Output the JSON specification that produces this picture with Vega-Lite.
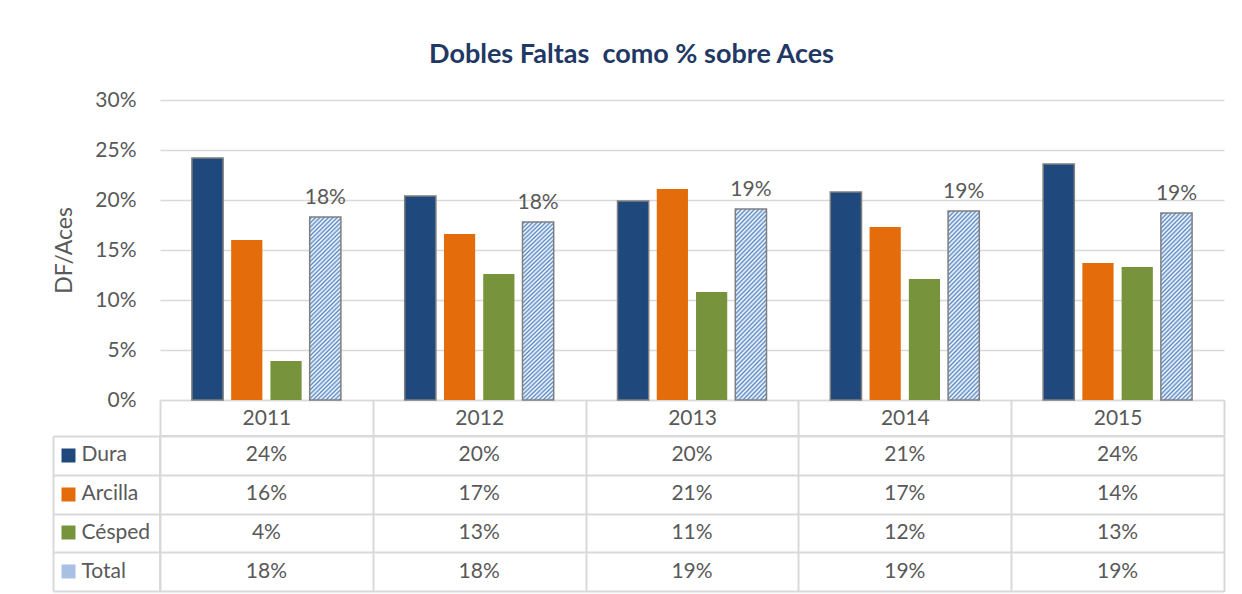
{
  "$schema": "https://vega.github.io/schema/vega-lite/v6.json",
  "padding": {"left": 51, "top": 41, "right": 0, "bottom": 0},
  "background": "white",
  "title": {"text": "Dobles Faltas \u00a0como % sobre Aces", "font": "Lato", "fontSize": 27, "fontWeight": "bold", "color": "#1F3864", "anchor": "middle", "frame": "bounds", "dx": -7, "offset": 20},
  "config": {"view": {"stroke": null}, "font": "Lato"},
  "datasets": {
    "df": [
      {"year": "2011", "series": "Dura", "value": 0.242},
      {"year": "2011", "series": "Arcilla", "value": 0.160},
      {"year": "2011", "series": "Césped", "value": 0.039},
      {"year": "2011", "series": "Total", "value": 0.183},
      {"year": "2012", "series": "Dura", "value": 0.204},
      {"year": "2012", "series": "Arcilla", "value": 0.166},
      {"year": "2012", "series": "Césped", "value": 0.126},
      {"year": "2012", "series": "Total", "value": 0.178},
      {"year": "2013", "series": "Dura", "value": 0.199},
      {"year": "2013", "series": "Arcilla", "value": 0.211},
      {"year": "2013", "series": "Césped", "value": 0.108},
      {"year": "2013", "series": "Total", "value": 0.191},
      {"year": "2014", "series": "Dura", "value": 0.208},
      {"year": "2014", "series": "Arcilla", "value": 0.173},
      {"year": "2014", "series": "Césped", "value": 0.121},
      {"year": "2014", "series": "Total", "value": 0.189},
      {"year": "2015", "series": "Dura", "value": 0.236},
      {"year": "2015", "series": "Arcilla", "value": 0.137},
      {"year": "2015", "series": "Césped", "value": 0.133},
      {"year": "2015", "series": "Total", "value": 0.187}
    ]
  },
  "spacing": -2,
  "vconcat": [
    {
      "width": 1064,
      "height": 300,
      "data": {"name": "df"},
      "encoding": {
        "x": {"field": "year", "type": "nominal", "scale": {"paddingInner": 0, "paddingOuter": 0},
          "axis": {"orient": "bottom", "domain": true, "domainColor": "#D9D9D9", "domainWidth": 1.5, "ticks": true, "tickBand": "extent", "tickSize": 35, "tickColor": "#D9D9D9", "tickWidth": 2, "labelPadding": -17, "labelBaseline": "middle", "labelFontSize": 21, "labelColor": "#595959", "labelFont": "Lato", "labelAngle": 0, "title": null, "grid": false}},
        "xOffset": {"field": "series", "type": "nominal", "scale": {"domain": ["Dura", "Arcilla", "Césped", "Total"], "paddingInner": 0.205, "paddingOuter": 0.8125}},
        "y": {"field": "value", "type": "quantitative", "scale": {"domain": [0, 0.3], "nice": false},
          "axis": {"values": [0, 0.05, 0.1, 0.15, 0.2, 0.25, 0.3], "format": ".0%", "labelFontSize": 21, "labelColor": "#595959", "labelFont": "Lato", "labelPadding": 24, "ticks": false, "domain": false, "grid": true, "gridColor": "#D9D9D9", "gridWidth": 1.5, "title": "DF/Aces", "titleFont": "Lato", "titleFontSize": 23, "titleFontWeight": "normal", "titleColor": "#595959", "titlePadding": 19, "minExtent": 65, "maxExtent": 65}}
      },
      "layer": [
        {
          "mark": {"type": "bar", "strokeWidth": 1.5},
          "encoding": {
            "fill": {
              "condition": {"test": "datum.series === 'Total'", "value": {"gradient": "linear", "x1": 0, "y1": 0, "x2": 0.192, "y2": 1.137, "stops": [
                {"offset": 0, "color": "#ffffff"}, {"offset": 0.01, "color": "#5A8AC6"}, {"offset": 0.02, "color": "#ffffff"}, {"offset": 0.03, "color": "#5A8AC6"}, {"offset": 0.04, "color": "#ffffff"}, {"offset": 0.05, "color": "#5A8AC6"}, {"offset": 0.06, "color": "#ffffff"}, {"offset": 0.07, "color": "#5A8AC6"}, {"offset": 0.08, "color": "#ffffff"}, {"offset": 0.09, "color": "#5A8AC6"},
                {"offset": 0.10, "color": "#ffffff"}, {"offset": 0.11, "color": "#5A8AC6"}, {"offset": 0.12, "color": "#ffffff"}, {"offset": 0.13, "color": "#5A8AC6"}, {"offset": 0.14, "color": "#ffffff"}, {"offset": 0.15, "color": "#5A8AC6"}, {"offset": 0.16, "color": "#ffffff"}, {"offset": 0.17, "color": "#5A8AC6"}, {"offset": 0.18, "color": "#ffffff"}, {"offset": 0.19, "color": "#5A8AC6"},
                {"offset": 0.20, "color": "#ffffff"}, {"offset": 0.21, "color": "#5A8AC6"}, {"offset": 0.22, "color": "#ffffff"}, {"offset": 0.23, "color": "#5A8AC6"}, {"offset": 0.24, "color": "#ffffff"}, {"offset": 0.25, "color": "#5A8AC6"}, {"offset": 0.26, "color": "#ffffff"}, {"offset": 0.27, "color": "#5A8AC6"}, {"offset": 0.28, "color": "#ffffff"}, {"offset": 0.29, "color": "#5A8AC6"},
                {"offset": 0.30, "color": "#ffffff"}, {"offset": 0.31, "color": "#5A8AC6"}, {"offset": 0.32, "color": "#ffffff"}, {"offset": 0.33, "color": "#5A8AC6"}, {"offset": 0.34, "color": "#ffffff"}, {"offset": 0.35, "color": "#5A8AC6"}, {"offset": 0.36, "color": "#ffffff"}, {"offset": 0.37, "color": "#5A8AC6"}, {"offset": 0.38, "color": "#ffffff"}, {"offset": 0.39, "color": "#5A8AC6"},
                {"offset": 0.40, "color": "#ffffff"}, {"offset": 0.41, "color": "#5A8AC6"}, {"offset": 0.42, "color": "#ffffff"}, {"offset": 0.43, "color": "#5A8AC6"}, {"offset": 0.44, "color": "#ffffff"}, {"offset": 0.45, "color": "#5A8AC6"}, {"offset": 0.46, "color": "#ffffff"}, {"offset": 0.47, "color": "#5A8AC6"}, {"offset": 0.48, "color": "#ffffff"}, {"offset": 0.49, "color": "#5A8AC6"},
                {"offset": 0.50, "color": "#ffffff"}, {"offset": 0.51, "color": "#5A8AC6"}, {"offset": 0.52, "color": "#ffffff"}, {"offset": 0.53, "color": "#5A8AC6"}, {"offset": 0.54, "color": "#ffffff"}, {"offset": 0.55, "color": "#5A8AC6"}, {"offset": 0.56, "color": "#ffffff"}, {"offset": 0.57, "color": "#5A8AC6"}, {"offset": 0.58, "color": "#ffffff"}, {"offset": 0.59, "color": "#5A8AC6"},
                {"offset": 0.60, "color": "#ffffff"}, {"offset": 0.61, "color": "#5A8AC6"}, {"offset": 0.62, "color": "#ffffff"}, {"offset": 0.63, "color": "#5A8AC6"}, {"offset": 0.64, "color": "#ffffff"}, {"offset": 0.65, "color": "#5A8AC6"}, {"offset": 0.66, "color": "#ffffff"}, {"offset": 0.67, "color": "#5A8AC6"}, {"offset": 0.68, "color": "#ffffff"}, {"offset": 0.69, "color": "#5A8AC6"},
                {"offset": 0.70, "color": "#ffffff"}, {"offset": 0.71, "color": "#5A8AC6"}, {"offset": 0.72, "color": "#ffffff"}, {"offset": 0.73, "color": "#5A8AC6"}, {"offset": 0.74, "color": "#ffffff"}, {"offset": 0.75, "color": "#5A8AC6"}, {"offset": 0.76, "color": "#ffffff"}, {"offset": 0.77, "color": "#5A8AC6"}, {"offset": 0.78, "color": "#ffffff"}, {"offset": 0.79, "color": "#5A8AC6"},
                {"offset": 0.80, "color": "#ffffff"}, {"offset": 0.81, "color": "#5A8AC6"}, {"offset": 0.82, "color": "#ffffff"}, {"offset": 0.83, "color": "#5A8AC6"}, {"offset": 0.84, "color": "#ffffff"}, {"offset": 0.85, "color": "#5A8AC6"}, {"offset": 0.86, "color": "#ffffff"}, {"offset": 0.87, "color": "#5A8AC6"}, {"offset": 0.88, "color": "#ffffff"}, {"offset": 0.89, "color": "#5A8AC6"},
                {"offset": 0.90, "color": "#ffffff"}, {"offset": 0.91, "color": "#5A8AC6"}, {"offset": 0.92, "color": "#ffffff"}, {"offset": 0.93, "color": "#5A8AC6"}, {"offset": 0.94, "color": "#ffffff"}, {"offset": 0.95, "color": "#5A8AC6"}, {"offset": 0.96, "color": "#ffffff"}, {"offset": 0.97, "color": "#5A8AC6"}, {"offset": 0.98, "color": "#ffffff"}, {"offset": 0.99, "color": "#5A8AC6"},
                {"offset": 1, "color": "#ffffff"}
              ]}},
              "field": "series", "type": "nominal",
              "scale": {"domain": ["Dura", "Arcilla", "Césped", "Total"], "range": ["#1F497D", "#E46C0A", "#77933C", "#A8C0E4"]},
              "legend": null
            },
            "stroke": {"condition": {"test": "datum.series === 'Dura' || datum.series === 'Total'", "value": "#7F7F7F"}, "value": "transparent"}
          }
        },
        {
          "transform": [{"filter": "datum.series === 'Total'"}],
          "mark": {"type": "text", "baseline": "alphabetic", "dy": -13, "fontSize": 21, "color": "#595959", "font": "Lato"},
          "encoding": {
            "text": {"field": "value", "type": "quantitative", "format": ".0%"}
          }
        }
      ]
    },
    {
      "width": 1064,
      "height": 155,
      "view": {"stroke": "#D9D9D9", "strokeWidth": 2},
      "data": {"name": "df"},
      "encoding": {
        "x": {"field": "year", "type": "nominal", "scale": {"paddingInner": 0, "paddingOuter": 0},
          "axis": {"orient": "top", "grid": true, "tickBand": "extent", "labels": false, "ticks": false, "domain": false, "title": null, "gridColor": "#D9D9D9", "gridWidth": 2, "zindex": 1}}
      },
      "layer": [
        {
          "mark": {"type": "rect", "fill": "white"},
          "encoding": {
            "y": {"field": "series", "type": "nominal", "scale": {"domain": ["Dura", "Arcilla", "Césped", "Total"], "paddingInner": 0, "paddingOuter": 0},
              "axis": {"orient": "left", "offset": 107, "domain": true, "domainColor": "#D9D9D9", "domainWidth": 2, "ticks": true, "tickBand": "extent", "tickSize": -1171, "tickColor": "#D9D9D9", "tickWidth": 2, "grid": false, "labels": false, "title": null, "zindex": 1}}
          }
        },
        {
          "mark": {"type": "text", "fontSize": 21, "color": "#595959", "font": "Lato"},
          "encoding": {
            "y": {"field": "series", "type": "nominal", "scale": {"domain": ["Dura", "Arcilla", "Césped", "Total"], "paddingInner": 0, "paddingOuter": 0},
              "axis": {"orient": "left", "offset": 85, "domain": false, "grid": false, "ticks": true, "tickSize": 14, "tickWidth": 14,
                "tickColor": {"condition": [{"test": "datum.value === 'Dura'", "value": "#1F497D"}, {"test": "datum.value === 'Arcilla'", "value": "#E46C0A"}, {"test": "datum.value === 'Césped'", "value": "#77933C"}], "value": "#A8C0E4"},
                "labelAlign": "left", "labelPadding": -20, "labelBaseline": "middle", "labelFontSize": 21, "labelColor": "#595959", "labelFont": "Lato", "title": null, "zindex": 2}},
            "text": {"field": "value", "type": "quantitative", "format": ".0%"}
          }
        }
      ],
      "resolve": {"axis": {"y": "independent"}}
    }
  ]
}
